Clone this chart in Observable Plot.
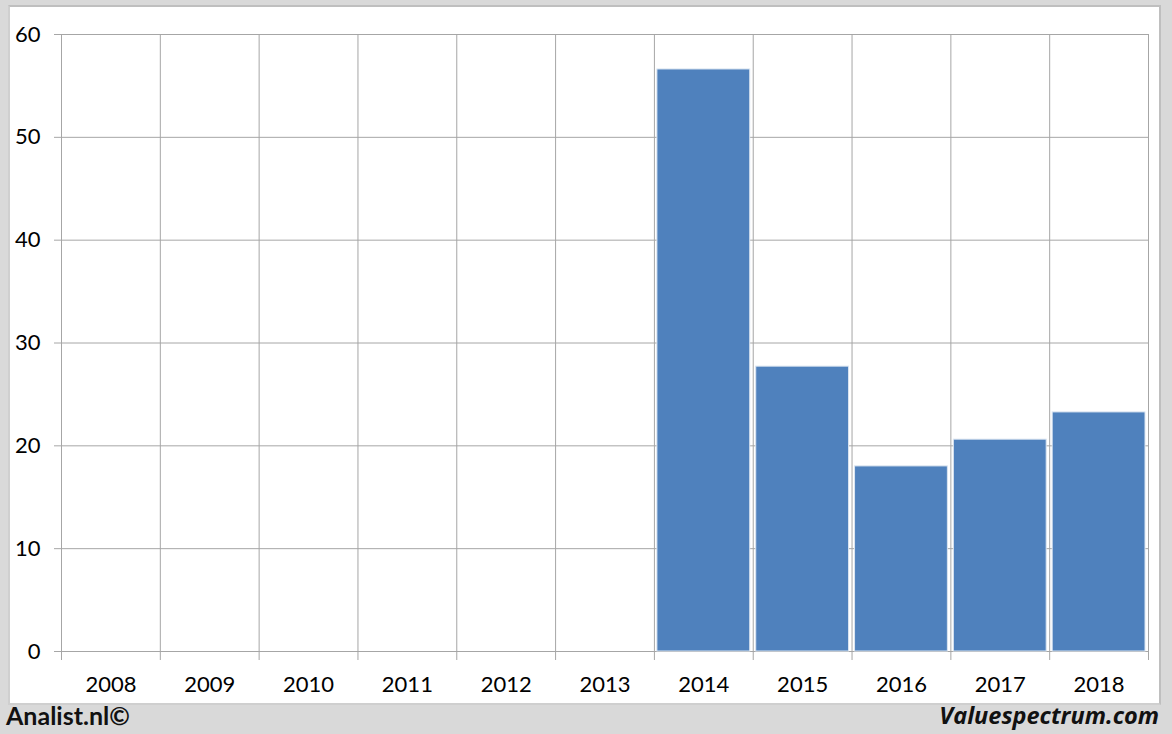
<!DOCTYPE html>
<html>
<head>
<meta charset="utf-8">
<script src="https://cdn.jsdelivr.net/npm/d3@7"></script>
<script src="https://cdn.jsdelivr.net/npm/@observablehq/plot@0.6"></script>
<style>
  html, body { margin: 0; padding: 0; background: #d9d9d9; }
  #wrap { position: relative; width: 1172px; height: 734px; overflow: hidden; }
  #panel { position: absolute; left: 8px; top: 5px; width: 1149px; height: 696px; background: #fff; border: 2px solid #bfbfbf; border-left-color: #cfcfcf; border-bottom-color: #cfcfcf; }
  #chart { position: absolute; left: 0; top: 0; }
  .foot { position: absolute; top: 700px; font-family: "Open Sans", Lato, sans-serif; font-weight: bold; font-size: 23.5px; color: #111; }
  #left { left: 6px; font-family: Lato, "Open Sans", sans-serif; font-size: 25px; top: 700px; }
  #right { right: 13px; font-style: italic; top: 699px; }
</style>
</head>
<body>
<div id="wrap">
  <div id="panel"></div>
  <div id="chart"></div>
  <div class="foot" id="left">Analist.nl©</div>
  <div class="foot" id="right">Valuespectrum.com</div>
</div>
<script>
const years = [2008, 2009, 2010, 2011, 2012, 2013, 2014, 2015, 2016, 2017, 2018];
const values = [null, null, null, null, null, null, 56.6, 27.7, 18.0, 20.6, 23.25];
const yTicks = [0, 10, 20, 30, 40, 50, 60];

const data = years.map((y, i) => ({year: y, value: values[i]})).filter(d => d.value != null);
const bounds = years.map(y => y - 0.5).concat([years[years.length - 1] + 0.5]);

const chart = Plot.plot({
  width: 1172,
  height: 705,
  marginLeft: 61,
  marginRight: 24,
  marginTop: 34,
  marginBottom: 54,
  style: {background: "transparent", fontFamily: "Lato, 'Open Sans', sans-serif", fontSize: "22px", color: "#000"},
  x: {type: "linear", domain: [bounds[0], bounds[bounds.length - 1]]},
  y: {domain: [0, 60]},
  marks: [
    Plot.gridY(yTicks, {stroke: "#a6a6a6", strokeOpacity: 1, strokeWidth: 1}),
    Plot.gridX(bounds, {stroke: "#a6a6a6", strokeOpacity: 1, strokeWidth: 1}),
    Plot.axisY(yTicks, {tickSize: 7, tickPadding: 14, stroke: "#a6a6a6", fill: "#000", label: null, fontSize: 22}),
    Plot.axisX(bounds, {tickSize: 9, tickFormat: () => "", stroke: "#a6a6a6", label: null}),
    Plot.axisX(years, {tickSize: 0, tickPadding: 25, tickFormat: d => String(d), fill: "#000", label: null, fontSize: 22}),
    Plot.rectY(data, {x1: d => d.year - 0.5, x2: d => d.year + 0.5, y: "value", fill: "#4f81bd", stroke: "#dbe5f1", strokeWidth: 1, insetLeft: 3, insetRight: 3})
  ]
});
document.getElementById("chart").appendChild(chart);
</script>
</body>
</html>
